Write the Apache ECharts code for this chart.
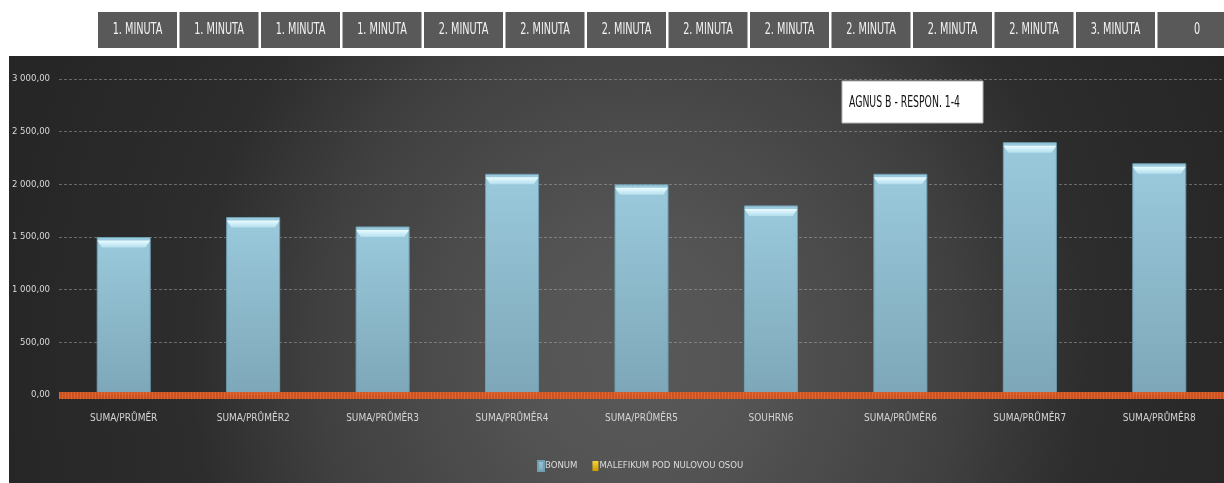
<!DOCTYPE html>
<html>
<head>
<meta charset="utf-8">
<script src="https://cdn.jsdelivr.net/npm/echarts@6/dist/echarts.min.js"></script>
<style>
  html, body { margin: 0; padding: 0; background: #ffffff; }
  #wrap { position: relative; width: 1224px; height: 483px; overflow: hidden; }
  #panel {
    position: absolute; left: 9px; top: 56px; width: 1215px; height: 427px;
    background: radial-gradient(ellipse 640px 700px at 630px 300px,
      #585858 0%, #555555 16%, #404040 50%, #2d2d2d 70%, #262626 100%);
  }
  #chart { position: absolute; left: 0; top: 0; width: 1224px; height: 483px; }
</style>
</head>
<body>
<div id="wrap">
  <div id="panel"></div>
  <div id="chart"></div>
</div>
<script>
// Pivot field buttons above the plot
const headerLabels = ['1. MINUTA', '1. MINUTA', '1. MINUTA', '1. MINUTA',
  '2. MINUTA', '2. MINUTA', '2. MINUTA', '2. MINUTA', '2. MINUTA', '2. MINUTA',
  '2. MINUTA', '2. MINUTA', '3. MINUTA', '0'];

// Categories along the x axis
const categories = ['SUMA/PRŮMĚR', 'SUMA/PRŮMĚR2', 'SUMA/PRŮMĚR3', 'SUMA/PRŮMĚR4',
  'SUMA/PRŮMĚR5', 'SOUHRN6', 'SUMA/PRŮMĚR6', 'SUMA/PRŮMĚR7', 'SUMA/PRŮMĚR8'];

// Series values
const bonum = [1500, 1690, 1600, 2100, 2000, 1800, 2100, 2400, 2200];
const malefikum = [0, 0, 0, 0, 0, 0, 0, 0, 0];

// Value axis range
const yMin = 0;
const yMax = 3000;
const yStep = 500;

const chartTitle = 'AGNUS B - RESPON. 1-4';
const seriesNames = ['BONUM', 'MALEFIKUM POD NULOVOU OSOU'];

const FONT = "'Liberation Sans Narrow', 'DejaVu Sans Condensed', 'Noto Sans', sans-serif";

// "3 000,00" style number formatting
function formatCz(v) {
  const parts = v.toFixed(2).split('.');
  const intPart = parts[0].replace(/\B(?=(\d{3})+(?!\d))/g, ' ');
  return intPart + ',' + parts[1];
}

// Header buttons
const graphics = [];
headerLabels.forEach(function (txt, i) {
  const x = 98 + i * 81.5;
  graphics.push({
    type: 'rect', x: x, y: 12, silent: true,
    shape: { x: 0, y: 0, width: 79, height: 36 },
    style: { fill: '#595959' }
  });
  graphics.push({
    type: 'text', x: x + 39.5, y: 30, scaleX: 0.72, silent: true,
    style: {
      text: txt, fill: '#f2f2f2', font: '15px ' + FONT,
      textAlign: 'center', textVerticalAlign: 'middle'
    }
  });
});

// Title box
graphics.push({
  type: 'rect', x: 842, y: 81, silent: true,
  shape: { x: 0, y: 0, width: 141, height: 42 },
  style: { fill: '#ffffff', stroke: '#b4b4b4', lineWidth: 1 }
});
graphics.push({
  type: 'text', x: 849, y: 103, scaleX: 0.69, silent: true,
  style: {
    text: chartTitle, fill: '#111111', font: '15px ' + FONT,
    textAlign: 'left', textVerticalAlign: 'middle'
  }
});

const chart = echarts.init(document.getElementById('chart'), null, { renderer: 'canvas' });

chart.setOption({
  backgroundColor: 'transparent',
  animation: false,
  textStyle: { fontFamily: FONT },
  grid: { left: 59, right: -15, top: 79, bottom: 88 },
  legend: {
    data: seriesNames,
    left: 532, top: 455,
    icon: 'rect', itemWidth: 6, itemHeight: 10, itemGap: 15,
    textStyle: { color: '#dcdcdc', fontSize: 9.5, fontFamily: FONT, padding: [0, 0, 0, -4] },
    selectedMode: false
  },
  xAxis: {
    type: 'category',
    data: categories,
    axisLine: { show: false },
    axisTick: { show: false },
    axisLabel: { color: '#d4d4d4', fontSize: 10, margin: 18, interval: 0, fontFamily: FONT },
    splitLine: { show: false }
  },
  yAxis: {
    type: 'value',
    min: yMin, max: yMax, interval: yStep,
    axisLine: { show: false },
    axisTick: { show: false },
    axisLabel: { color: '#d8d8d8', fontSize: 9.5, margin: 9, fontFamily: FONT, formatter: formatCz },
    splitLine: { lineStyle: { color: 'rgba(170,170,170,0.5)', width: 1, type: [3, 2] } }
  },
  series: [
    {
      name: seriesNames[0],
      type: 'bar',
      stack: 'total',
      barWidth: 54,
      data: bonum,
      itemStyle: {
        color: new echarts.graphic.LinearGradient(0, 0, 0, 1, [
          { offset: 0, color: '#9acadc' },
          { offset: 1, color: '#7da7b8' }
        ]),
        borderColor: '#6f9fb2',
        borderWidth: 1
      },
      z: 2
    },
    {
      name: seriesNames[1],
      type: 'bar',
      stack: 'total',
      barWidth: 54,
      data: malefikum,
      itemStyle: {
        color: new echarts.graphic.LinearGradient(0, 0, 0, 1, [
          { offset: 0, color: '#f5d43a' },
          { offset: 1, color: '#c99a00' }
        ])
      },
      z: 10,
      markLine: {
        silent: true,
        symbol: ['none', 'none'],
        label: { show: false },
        data: [
          { yAxis: 0, lineStyle: { color: '#d5521e', width: 7, type: 'solid', opacity: 0.95 } },
          { yAxis: 0, lineStyle: { color: 'rgba(250,150,100,0.35)', width: 7, type: [1, 2] } }
        ]
      }
    },
    {
      // bevelled highlight on top of each bar
      name: 'cap',
      type: 'pictorialBar',
      data: bonum,
      symbol: 'path://M0,0 L100,0 L91,10 L9,10 Z',
      symbolSize: [53, 7],
      symbolPosition: 'end',
      symbolOffset: [0, '50%'],
      itemStyle: {
        color: new echarts.graphic.LinearGradient(0, 0, 0, 1, [
          { offset: 0, color: '#eafcff' },
          { offset: 1, color: '#b3dfee' }
        ])
      },
      silent: true,
      z: 3
    }
  ],
  graphic: graphics
});
</script>
</body>
</html>
